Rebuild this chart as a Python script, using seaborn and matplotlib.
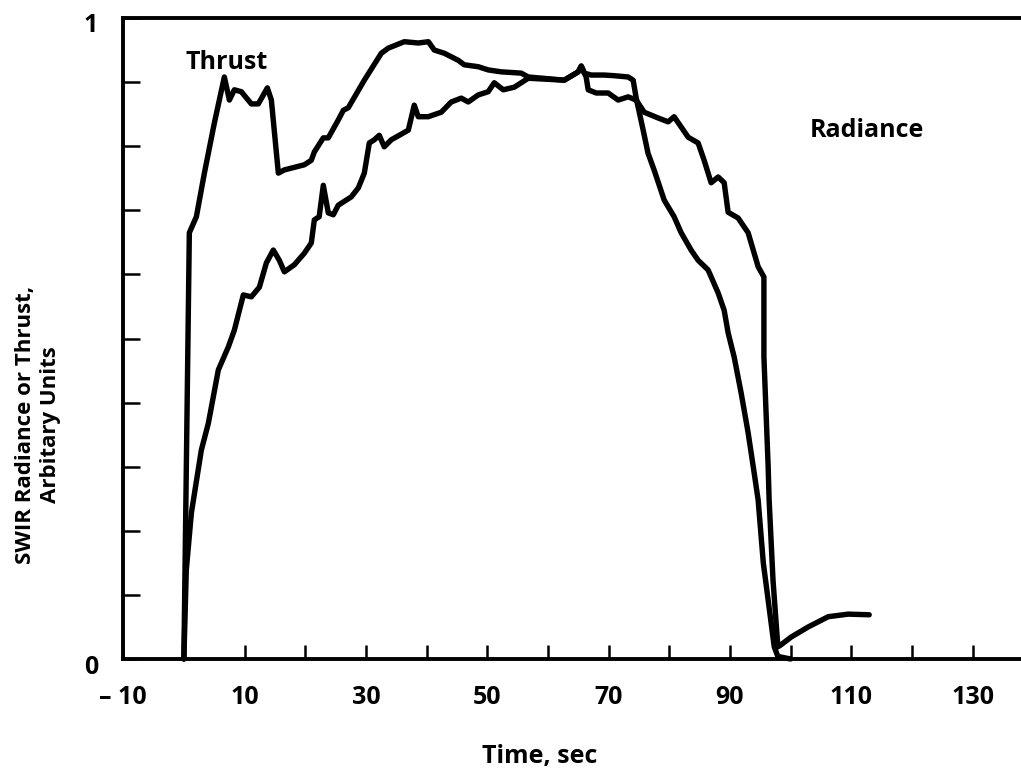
import numpy as np
import pandas as pd
import matplotlib
matplotlib.use("Agg")
import matplotlib.pyplot as plt
import matplotlib.transforms as mtransforms
import seaborn as sns

# ---------------- data ----------------
thrust_t = [0.0, 0.9, 2.06, 3.38, 5.02, 6.67, 7.5, 8.32, 9.47, 11.12, 12.27, 13.76, 14.42,
            15.57, 16.56, 19.85, 21.0, 21.5, 22.98, 23.8, 25.45, 26.28, 27.1, 29.74, 32.54,
            33.69, 36.33, 38.64, 40.3, 41.27, 42.92, 45.22, 46.21, 48.52, 50.16, 52.3, 55.6,
            56.76, 62.69, 65.0, 65.5, 66.0, 67.13, 69.27, 70.92, 73.23, 74.05, 74.55, 75.7,
            76.5, 77.5, 79.16, 80.8, 81.96, 83.6, 84.76, 86.4, 88.06, 89.05, 89.7, 90.7,
            91.85, 93.0, 94.0, 94.65, 95.5, 97.3, 97.9, 100.0]
thrust_v = [0.0, 0.665, 0.69, 0.758, 0.836, 0.908, 0.872, 0.888, 0.885, 0.866, 0.866, 0.891, 0.872,
            0.758, 0.763, 0.771, 0.778, 0.791, 0.813, 0.813, 0.841, 0.856, 0.86, 0.903, 0.945,
            0.953, 0.963, 0.961, 0.963, 0.95, 0.945, 0.934, 0.927, 0.924, 0.919, 0.916, 0.914,
            0.908, 0.903, 0.916, 0.925, 0.914, 0.911, 0.911, 0.91, 0.908, 0.903, 0.875, 0.825,
            0.789, 0.763, 0.716, 0.69, 0.665, 0.638, 0.622, 0.607, 0.571, 0.544, 0.509, 0.471,
            0.415, 0.353, 0.29, 0.248, 0.15, 0.019, 0.004, 0.0]

radiance_t = [0.0, 0.4, 1.24, 2.88, 4.04, 5.68, 7.33, 8.32, 9.8, 11.12, 12.44, 13.6, 14.74,
              15.73, 16.56, 18.2, 19.85, 21.0, 21.5, 22.3, 22.98, 23.8, 24.63, 25.45, 27.6,
              28.75, 29.74, 30.56, 31.38, 32.2, 33.03, 34.18, 36.99, 37.97, 38.63, 40.28, 42.42,
              44.07, 45.72, 46.87, 48.52, 50.16, 51.15, 52.64, 54.45, 56.76, 62.69, 65.0, 65.5,
              66.3, 66.64, 67.96, 69.93, 71.58, 73.23, 74.55, 75.87, 78.17, 79.82, 80.8, 81.96,
              83.12, 84.76, 85.75, 86.9, 88.06, 89.05, 89.7, 91.35, 93.0, 94.65, 95.6, 95.6,
              96.3, 96.46, 97.1, 97.9, 98.4, 100.05, 102.9, 106.2, 109.5, 112.95]
radiance_v = [0.0, 0.139, 0.228, 0.326, 0.368, 0.451, 0.487, 0.513, 0.568, 0.565, 0.58, 0.618, 0.638,
              0.622, 0.604, 0.615, 0.633, 0.649, 0.685, 0.69, 0.739, 0.696, 0.693, 0.708, 0.721,
              0.735, 0.758, 0.805, 0.81, 0.817, 0.799, 0.81, 0.825, 0.864, 0.846, 0.846, 0.853,
              0.869, 0.875, 0.869, 0.88, 0.885, 0.899, 0.888, 0.892, 0.906, 0.903, 0.916, 0.925,
              0.908, 0.888, 0.883, 0.883, 0.872, 0.877, 0.872, 0.853, 0.844, 0.838, 0.846, 0.83,
              0.814, 0.805, 0.778, 0.743, 0.752, 0.743, 0.697, 0.688, 0.665, 0.612, 0.596, 0.471,
              0.3, 0.248, 0.123, 0.019, 0.022, 0.034, 0.05, 0.066, 0.07, 0.069]

x_major = [-10, 10, 30, 50, 70, 90, 110, 130]
x_tick_labels = ["\u2013 10", "10", "30", "50", "70", "90", "110", "130"]
x_minor = [0, 20, 40, 60, 80, 100, 120]
y_major = [0, 1]
y_tick_labels = ["0", "1"]
y_minor = [0.1, 0.2, 0.3, 0.4, 0.5, 0.6, 0.7, 0.8, 0.9]

# ---------------- plot ----------------
sns.set_theme(style="ticks")
plt.rcParams["font.family"] = ["Open Sans", "DejaVu Sans"]
plt.rcParams["font.weight"] = "bold"
for key in ("text.color", "axes.labelcolor", "xtick.color", "ytick.color", "axes.edgecolor"):
    plt.rcParams[key] = "black"

fig = plt.figure(figsize=(10.21, 7.75), dpi=100)
ax = fig.add_axes([123.2 / 1021, 116 / 775, 901 / 1021, 641 / 775])

df_t = pd.DataFrame({"t": thrust_t, "v": thrust_v})
df_r = pd.DataFrame({"t": radiance_t, "v": radiance_v})
for df in (df_t, df_r):
    sns.lineplot(data=df, x="t", y="v", ax=ax, sort=False, estimator=None,
                 color="black", linewidth=3.9, clip_on=False,
                 solid_joinstyle="round", solid_capstyle="round")

ax.set_xlim(-10, 138.5)
ax.set_ylim(0, 1)

ax.set_xticks(x_major, labels=x_tick_labels)
ax.set_xticks(x_minor, minor=True)
ax.set_yticks(y_major, labels=y_tick_labels)
ax.set_yticks(y_minor, minor=True)

ax.tick_params(axis="x", which="both", direction="in", length=10, width=1.8,
               bottom=True, top=False, pad=19, labelsize=18, colors="black")
ax.tick_params(axis="y", which="both", direction="in", length=12, width=1.8,
               left=True, right=False, pad=18, labelsize=18, colors="black")
shift = mtransforms.ScaledTranslation(0, -5 / 100, fig.dpi_scale_trans)
for lab in ax.get_yticklabels():
    lab.set_transform(lab.get_transform() + shift)
for lab in ax.get_xticklabels() + ax.get_yticklabels():
    lab.set_fontweight("bold")

for side in ("left", "bottom", "top"):
    ax.spines[side].set_linewidth(2.8)
    ax.spines[side].set_color("black")
ax.spines["right"].set_visible(False)

ax.set_xlabel("Time, sec", fontsize=18, fontweight="bold", color="black")
ax.xaxis.set_label_coords((540 - 123.2) / 901, (659 - 757) / 641)
ax.xaxis.label.set_verticalalignment("center")

ax.set_ylabel("SWIR Radiance or Thrust,\nArbitary Units", fontsize=16,
              fontweight="bold", color="black", linespacing=1.25, multialignment="center")
ax.yaxis.set_label_coords((38 - 123.2) / 901, (659 - 425) / 641)
ax.yaxis.label.set_verticalalignment("center")

ax.text(7.0, 0.931, "Thrust", fontsize=18, fontweight="bold", ha="center", va="center")
ax.text(112.6, 0.825, "Radiance", fontsize=18, fontweight="bold", ha="center", va="center")

fig.savefig("out.png", dpi=100, facecolor="white")
